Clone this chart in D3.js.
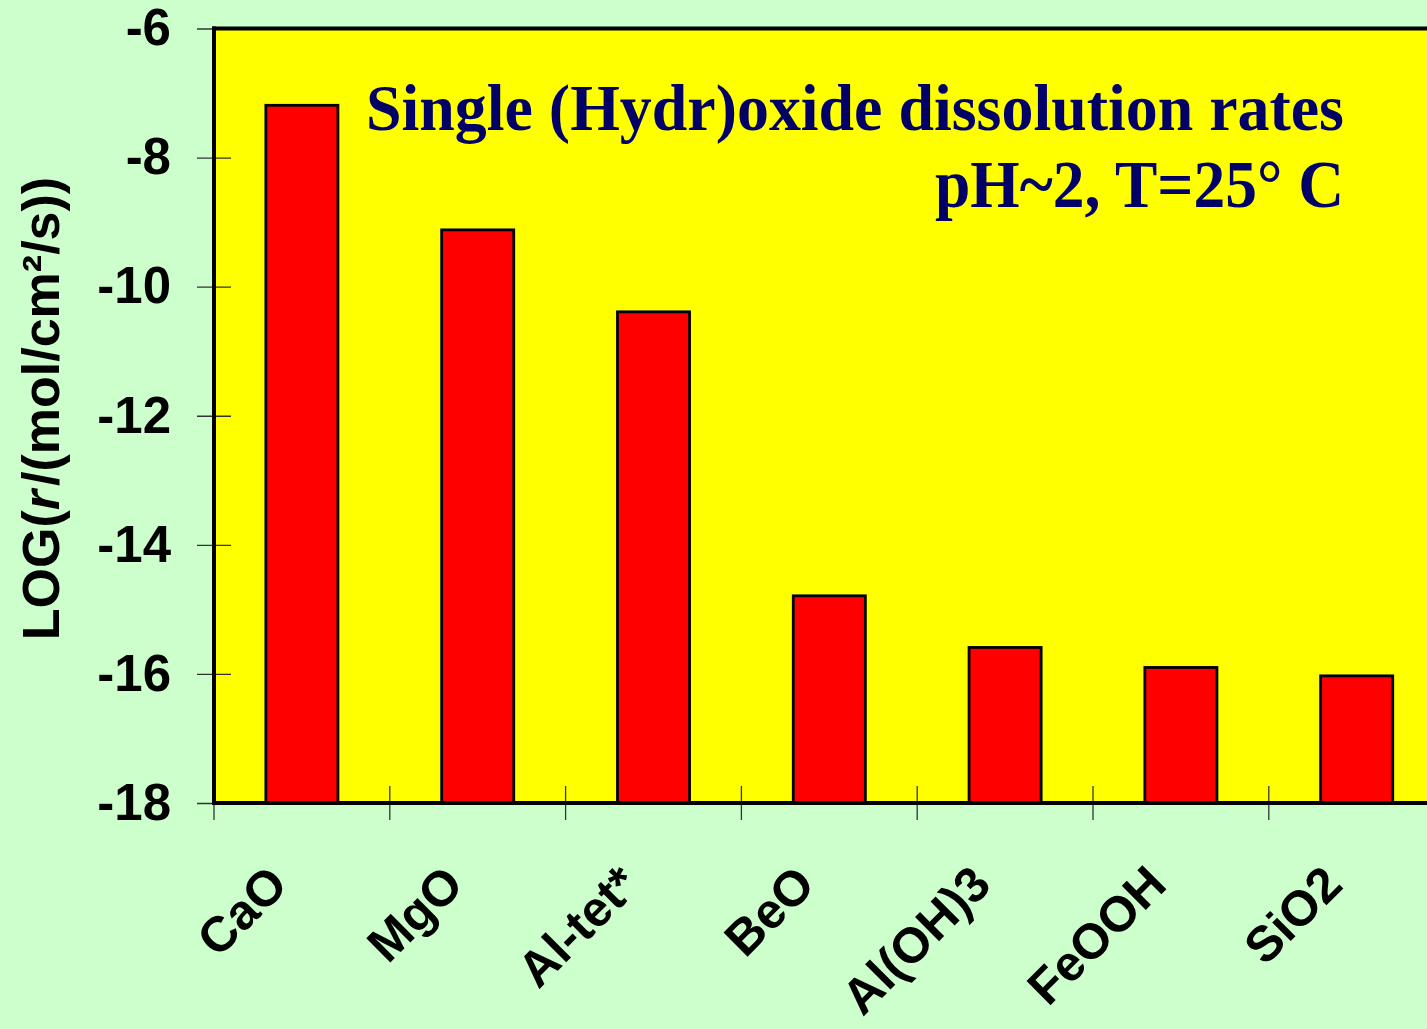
<!DOCTYPE html>
<html>
<head>
<meta charset="utf-8">
<script src="https://cdn.jsdelivr.net/npm/d3@7"></script>
<style>
  html, body { margin: 0; padding: 0; background: #ccffcc; overflow: hidden; }
  svg { display: block; }
</style>
</head>
<body>
<svg id="chart" width="1427" height="1029"></svg>
<script>
// Dissolution rates of single oxides / hydroxides, log10(r / (mol/cm²/s))
const categories = ["CaO", "MgO", "Al-tet*", "BeO", "Al(OH)3", "FeOOH", "SiO2"];
const logRates   = [-7.19, -9.12, -10.39, -14.79, -15.59, -15.90, -16.03];
const yTicks     = [-6, -8, -10, -12, -14, -16, -18];
const titleLines = ["Single (Hydr)oxide dissolution rates", "pH~2, T=25\u00B0 C"];

const svg = d3.select("#chart");
const W = 1427, H = 1029;

const plot = { left: 214, top: 28.5, bottom: 803, step: 175.8 };

const y = d3.scaleLinear().domain([-18, -6]).range([plot.bottom, plot.top]);
const x = d3.scaleBand()
  .domain(categories)
  .range([plot.left, plot.left + plot.step * categories.length])
  .paddingInner(0.59)
  .paddingOuter(0.295);

// page background
svg.append("rect").attr("width", W).attr("height", H).attr("fill", "#ccffcc");

// plot area
svg.append("rect")
  .attr("x", plot.left).attr("y", plot.top)
  .attr("width", W - plot.left + 10).attr("height", plot.bottom - plot.top)
  .attr("fill", "#ffff00");

// bars
svg.append("g").selectAll("rect")
  .data(categories.map((c, i) => ({ c, v: logRates[i] })))
  .join("rect")
  .attr("x", d => x(d.c))
  .attr("width", x.bandwidth())
  .attr("y", d => y(d.v))
  .attr("height", d => y(-18) - y(d.v))
  .attr("fill", "#ff0000")
  .attr("stroke", "#000")
  .attr("stroke-width", 2.8);

// title
const title = svg.append("g")
  .attr("font-family", "'Liberation Serif', 'Times New Roman', serif")
  .attr("font-weight", "bold")
  .attr("fill", "#000066")
  .attr("text-anchor", "end");
title.append("text")
  .attr("x", 1344).attr("y", 130)
  .attr("font-size", 66)
  .attr("textLength", 978).attr("lengthAdjust", "spacingAndGlyphs")
  .text(titleLines[0]);
title.append("text")
  .attr("x", 1344).attr("y", 207)
  .attr("font-size", 67)
  .attr("textLength", 409).attr("lengthAdjust", "spacingAndGlyphs")
  .text(titleLines[1]);

// y axis
const yAxis = svg.append("g")
  .attr("transform", `translate(${plot.left},0)`)
  .call(d3.axisLeft(y).tickValues(yTicks).tickFormat(d3.format("d")).tickSize(17).tickPadding(26));
yAxis.select(".domain").remove();
yAxis.selectAll(".tick line").attr("x1", 17).attr("stroke", "#333").attr("stroke-width", 1.3);
yAxis.selectAll(".tick text")
  .attr("font-family", "'Liberation Sans', Arial, sans-serif")
  .attr("font-weight", "bold")
  .attr("font-size", 51)
  .attr("fill", "#000")
  .text(d => "-" + Math.abs(d));

// x axis ticks at category boundaries
const bounds = categories.map(c => x(c) + x.bandwidth() / 2 - x.step() / 2);
svg.append("g").selectAll("line")
  .data(bounds)
  .join("line")
  .attr("x1", d => d).attr("x2", d => d)
  .attr("y1", plot.bottom - 17).attr("y2", plot.bottom + 17)
  .attr("stroke", "#333").attr("stroke-width", 1.3);

// frame: left, top and bottom spines
svg.append("line")
  .attr("x1", plot.left).attr("x2", plot.left)
  .attr("y1", plot.top - 2).attr("y2", plot.bottom + 2)
  .attr("stroke", "#000").attr("stroke-width", 4);
svg.append("line")
  .attr("x1", plot.left - 2).attr("x2", W + 5)
  .attr("y1", plot.top).attr("y2", plot.top)
  .attr("stroke", "#000").attr("stroke-width", 4);
svg.append("line")
  .attr("x1", plot.left - 2).attr("x2", W + 5)
  .attr("y1", plot.bottom).attr("y2", plot.bottom)
  .attr("stroke", "#000").attr("stroke-width", 4);

// category labels, rotated
svg.append("g")
  .attr("font-family", "'Liberation Sans', Arial, sans-serif")
  .attr("font-weight", "bold")
  .attr("font-size", 49.5)
  .attr("fill", "#000")
  .attr("text-anchor", "end")
  .selectAll("text")
  .data(categories)
  .join("text")
  .attr("transform", c => `translate(${x(c) + x.bandwidth() / 2 - 12},887) rotate(-45)`)
  .text(c => c);

// y axis title
const yt = svg.append("text")
  .attr("transform", "translate(59,408.5) rotate(-90)")
  .attr("text-anchor", "middle")
  .attr("font-family", "'Liberation Sans', Arial, sans-serif")
  .attr("font-weight", "bold")
  .attr("font-size", 52)
  .attr("fill", "#000");
yt.append("tspan").text("LOG(");
yt.append("tspan").attr("font-style", "italic").text("r");
yt.append("tspan").attr("dx", 4).text("/(mol/cm\u00B2/s))");
</script>
</body>
</html>
